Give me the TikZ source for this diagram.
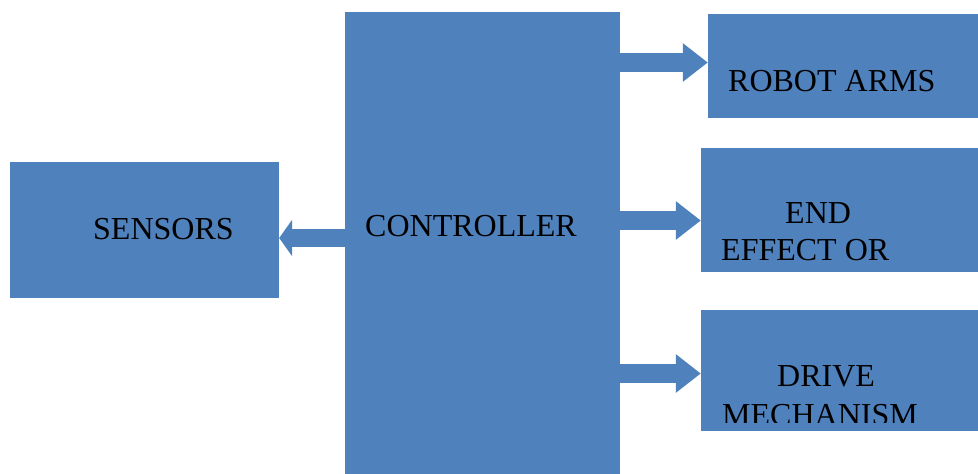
\documentclass[tikz,border=0pt]{standalone}
\usepackage{fontspec}
\setmainfont{Liberation Serif}
\usetikzlibrary{arrows.meta}
\definecolor{boxblue}{HTML}{4F81BD}
\tikzset{
  blk/.style={fill=boxblue, draw=none, rectangle, inner sep=0pt},
  lbl/.style={anchor=base west, inner sep=0pt, text=black, font=\fontsize{32}{32}\selectfont},
  barr/.style={draw=boxblue, line width=19pt, -{Triangle[length=25pt,width=37pt]}},
  barl/.style={draw=boxblue, line width=18pt, -{Triangle[length=13pt,width=36pt]}}
}
\begin{document}
\begin{tikzpicture}[x=1pt,y=-1pt]
\useasboundingbox (0,0) rectangle (978,474);
\node[blk, minimum width=275pt, minimum height=462pt] (ctrl) at (482.5,243) {};
\node[blk, minimum width=269pt, minimum height=136pt] (sens) at (144.5,230) {};
\node[blk, minimum width=270pt, minimum height=104pt] (robot) at (843,66) {};
\node[blk, minimum width=277pt, minimum height=124pt] (endeff) at (839.5,210) {};
\node[blk, minimum width=277pt, minimum height=121pt] (drive) at (839.5,370.5) {};
\coordinate (s1) at ([yshift=5pt]ctrl.west);
\coordinate (r1) at ([yshift=3.5pt]robot.west);
\coordinate (r2) at ([yshift=-10.5pt]endeff.west);
\coordinate (r3) at ([yshift=-3pt]drive.west);
\draw[barl] (s1) -- (s1 -| sens.east);
\draw[barr] (r1 -| ctrl.east) -- (r1);
\draw[barr] (r2 -| ctrl.east) -- (r2);
\draw[barr] (r3 -| ctrl.east) -- (r3);
\node[lbl] (tsens) at (93,239) {SENSORS};
\node[lbl] (tctrl) at (365,236) {CONTROLLER};
\node[lbl] (trobot) at (728,91) {ROBOT ARMS};
\node[lbl] (tend) at (785,223) {END};
\node[lbl] (teff) at (721,260) {EFFECT OR};
\node[lbl] (tdrive) at (777,386) {DRIVE};
\begin{scope}
\clip (700,395) rectangle (978,422);
\node[lbl] (tmech) at (722,425) {MECHANISM};
\end{scope}
\end{tikzpicture}
\end{document}
